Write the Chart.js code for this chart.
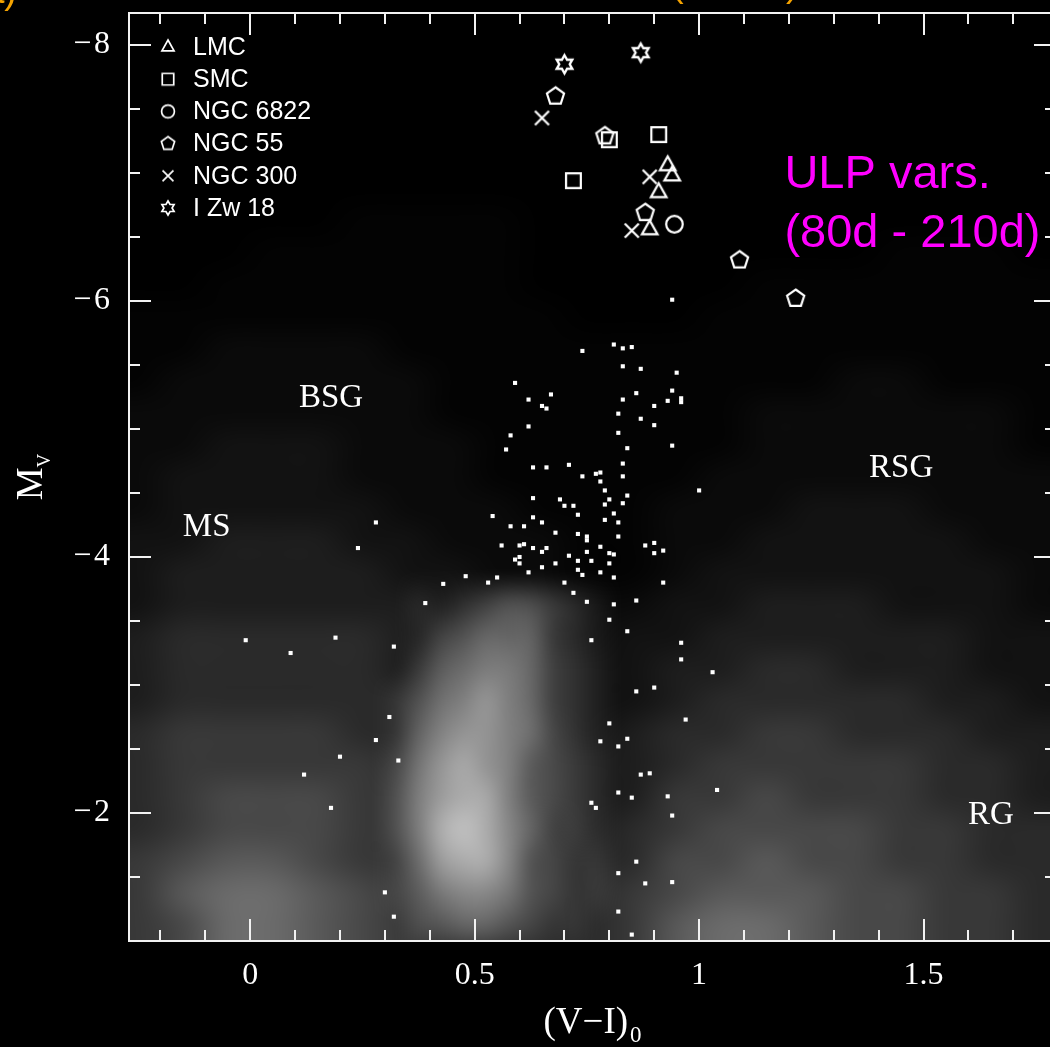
<!DOCTYPE html>
<html>
<head>
<meta charset="utf-8">
<title>Colour-magnitude diagram</title>
<script src="https://cdn.jsdelivr.net/npm/chart.js@4/dist/chart.umd.min.js"></script>
<style>
  html, body { margin: 0; padding: 0; background: #000; overflow: hidden; }
  canvas { display: block; }
</style>
</head>
<body>
<canvas id="cmd" width="1056" height="1047"></canvas>
<script>
// ---------------- data ----------------

// Ultra-long-period variables, [(V-I)0, Mv]
const lmc     = [[0.93, -7.06], [0.94, -6.98], [0.91, -6.85], [0.89, -6.56]];
const smc     = [[0.91, -7.30], [0.80, -7.26], [0.72, -6.94]];
const ngc6822 = [[0.945, -6.60]];
const ngc55   = [[0.68, -7.60], [0.79, -7.29], [0.88, -6.69], [1.09, -6.32], [1.215, -6.02]];
const ngc300  = [[0.65, -7.43], [0.89, -6.97], [0.85, -6.55]];
const izw18   = [[0.87, -7.94], [0.70, -7.85]];

// Variable stars outside the dense strip core, [(V-I)0, Mv]
const variables = [
  [0.94,-6.01],[0.81,-5.66],[0.83,-5.63],[0.85,-5.64],[0.74,-5.61],[0.83,-5.49],[0.87,-5.47],[0.95,-5.44],
  [0.59,-5.36],[0.67,-5.27],[0.86,-5.28],[0.94,-5.30],[0.96,-5.24],[0.96,-5.21],[0.83,-5.23],[0.62,-5.23],
  [0.65,-5.18],[0.66,-5.16],[0.93,-5.22],[0.90,-5.18],[0.82,-5.12],[0.87,-5.08],[0.62,-5.02],[0.90,-5.03],
  [0.82,-4.97],[0.58,-4.95],[0.84,-4.85],[0.94,-4.87],[0.57,-4.84],[0.71,-4.72],[0.63,-4.70],[0.66,-4.70],
  [0.83,-4.73],[0.77,-4.65],[0.78,-4.66],[0.74,-4.63],[0.83,-4.63],[0.78,-4.59],[0.79,-4.52],[1.00,-4.52],
  [0.63,-4.46],[0.69,-4.45],[0.80,-4.45],[0.84,-4.48],[0.83,-4.42],[0.70,-4.40],[0.72,-4.40],[0.79,-4.41],
  [0.54,-4.32],[0.63,-4.31],[0.73,-4.33],[0.81,-4.34],[0.82,-4.27],[0.65,-4.27],[0.58,-4.24],[0.61,-4.24],
  [0.79,-4.29],[0.68,-4.19],[0.73,-4.18],[0.75,-4.16],[0.82,-4.16],[0.75,-4.13],[0.88,-4.09],[0.90,-4.11],
  [0.92,-4.05],[0.90,-4.03],[0.56,-4.09],[0.60,-4.09],[0.63,-4.07],[0.66,-4.07],[0.65,-4.04],[0.78,-4.08],
  [0.75,-4.04],[0.71,-4.01],[0.81,-4.02],[0.60,-4.00],[0.60,-3.95],[0.62,-3.88],[0.65,-3.92],[0.68,-3.95],
  [0.73,-3.97],[0.76,-3.97],[0.80,-3.95],[0.73,-3.90],[0.74,-3.86],[0.78,-3.88],[0.48,-3.85],[0.55,-3.84],
  [0.61,-4.10],[0.59,-3.98],[0.53,-3.80],[0.43,-3.79],[0.39,-3.64],[0.70,-3.80],[0.80,-4.03],[0.81,-3.84],
  [0.86,-3.66],[0.72,-3.72],[0.75,-3.65],[0.81,-3.63],[0.80,-3.51],[0.84,-3.42],[0.76,-3.35],[0.92,-3.80],
  [0.96,-3.33],[0.96,-3.20],[0.86,-2.95],[0.97,-2.73],[0.80,-2.70],[0.84,-2.58],[0.78,-2.56],[0.82,-2.52],
  [0.87,-2.30],[0.89,-2.31],[0.82,-2.16],[0.85,-2.12],[0.76,-2.08],[0.77,-2.04],[0.94,-1.98],[0.86,-1.62],
  [0.88,-1.45],[0.94,-1.46],[0.82,-1.53],[0.82,-1.23],[0.85,-1.05],[0.32,-3.30],[0.31,-2.75],[0.33,-2.41],
  [0.30,-1.38],[0.32,-1.19],[1.03,-3.10],[0.90,-2.98],[1.04,-2.18],[0.93,-2.13],[0.28,-4.27],[0.24,-4.07],
  [-0.01,-3.35],[0.19,-3.37],[0.09,-3.25],[0.28,-2.57],[0.20,-2.44],[0.12,-2.30],[0.18,-2.04]
];

// Field-star density (0-9) on a 0.1 mag colour x 0.25 mag grid,
// columns from (V-I)0 = -0.3 to 1.8, rows from Mv = -8.25 (top) to -1.0
const fieldX0 = -0.3, fieldDX = 0.1, fieldY0 = -8.25, fieldDY = 0.25;
const fieldRows = [
  "000000000000000000000",
  "000000000000000000000",
  "000000000000000000000",
  "000000000000000000000",
  "000000000000000000000",
  "000000000000000000000",
  "000001111000000000000",
  "000111111000000001110",
  "001111111000001111111",
  "111111111100011111111",
  "112222111111111111111",
  "122222211111111122111",
  "222222211111112222221",
  "223332221111112222221",
  "233332221111122222222",
  "233333222111222333222",
  "334443322211223333322",
  "344444332211233333332",
  "344444433222334443332",
  "455555433223344444433",
  "455555443333445544433",
  "455555544333455555443",
  "566665544434556655544",
  "566666544444566666554",
  "567776654444667666554",
  "567776655545677776655",
  "678876655555778776655",
  "689987655556788877665",
  "679987655556899877665"
];

// Density (0-9) of the variable-star strip core, 0.05 x 0.25 mag cells,
// columns from (V-I)0 = 0.30 to 0.80, rows from Mv = -3.75 to -1.0
const coreX0 = 0.30, coreDX = 0.05, coreY0 = -3.75, coreDY = 0.25;
const coreRows = [
  "0112344321",
  "0134555321",
  "0245665321",
  "1356765321",
  "1467765321",
  "2578764321",
  "2578864321",
  "2589864221",
  "1478863211",
  "1356653211",
  "0234432110"
];

// Axis ticks
const xTickValues = [-0.2,-0.1,0,0.1,0.2,0.3,0.4,0.5,0.6,0.7,0.8,0.9,1,1.1,1.2,1.3,1.4,1.5,1.6,1.7];
const xMajorValues = [0, 0.5, 1, 1.5];
const xTickLabels = ["0", "0.5", "1", "1.5"];
const yTickValues = [-8,-7.5,-7,-6.5,-6,-5.5,-5,-4.5,-4,-3.5,-3,-2.5,-2,-1.5];
const yMajorValues = [-8, -6, -4, -2];
const yTickLabels = ["\u2212\u200A8", "\u2212\u200A6", "\u2212\u200A4", "\u2212\u200A2"];

// Region labels [text, (V-I)0, Mv]
const regionLabels = [["BSG", 0.18, -5.24], ["MS", -0.097, -4.23], ["RSG", 1.45, -4.69], ["RG", 1.65, -1.98]];

const legendNames = ["LMC", "SMC", "NGC 6822", "NGC 55", "NGC 300", "I Zw 18"];
const legendShapes = ["triangle", "square", "circle", "pentagon", "cross", "star"];

// ---------------- markers ----------------
function makeMarker(kind, r, lw) {
  const s = Math.ceil(2 * r + 2 * lw + 4);
  const c = document.createElement('canvas');
  c.width = c.height = s;
  const g = c.getContext('2d');
  g.strokeStyle = '#fff';
  g.lineWidth = lw;
  g.lineJoin = 'miter';
  const m = s / 2;
  g.beginPath();
  if (kind === 'triangle') {
    g.moveTo(m, m - r);
    g.lineTo(m + r * 0.866, m + r * 0.55);
    g.lineTo(m - r * 0.866, m + r * 0.55);
    g.closePath();
  } else if (kind === 'square') {
    const h = r * 0.82;
    g.rect(m - h, m - h, 2 * h, 2 * h);
  } else if (kind === 'circle') {
    g.arc(m, m, r * 0.92, 0, Math.PI * 2);
  } else if (kind === 'pentagon') {
    for (let k = 0; k < 5; k++) {
      const a = -Math.PI / 2 + k * 2 * Math.PI / 5;
      const px = m + r * Math.cos(a), py = m + r * Math.sin(a);
      if (k === 0) g.moveTo(px, py); else g.lineTo(px, py);
    }
    g.closePath();
  } else if (kind === 'cross') {
    const h = r * 0.78;
    g.moveTo(m - h, m - h); g.lineTo(m + h, m + h);
    g.moveTo(m + h, m - h); g.lineTo(m - h, m + h);
  } else if (kind === 'star') {
    for (let k = 0; k < 12; k++) {
      const a = -Math.PI / 2 + k * Math.PI / 6;
      const rr = (k % 2 === 0) ? r : r * 0.58;
      const px = m + rr * Math.cos(a), py = m + rr * Math.sin(a);
      if (k === 0) g.moveTo(px, py); else g.lineTo(px, py);
    }
    g.closePath();
  }
  g.stroke();
  return c;
}

const plotMarkers = {
  triangle: makeMarker('triangle', 9, 2.2),
  square: makeMarker('square', 9, 2.2),
  circle: makeMarker('circle', 9, 2.2),
  pentagon: makeMarker('pentagon', 9, 2.2),
  cross: makeMarker('cross', 9, 2.2),
  star: makeMarker('star', 9, 2.4)
};
const legendMarkers = {
  triangle: makeMarker('triangle', 7, 1.7),
  square: makeMarker('square', 7, 1.7),
  circle: makeMarker('circle', 7, 1.7),
  pentagon: makeMarker('pentagon', 7, 1.7),
  cross: makeMarker('cross', 7, 1.7),
  star: makeMarker('star', 7, 1.7)
};

const toPts = arr => arr.map(p => ({ x: p[0], y: p[1] }));

// ---------------- plugins ----------------
// Paints a density grid as a soft haze, cells placed through the chart scales
function drawDensity(chart, rows, x0, dx, y0, dy, maxAlpha, gamma, pad) {
  const nc = rows[0].length, nr = rows.length, p = pad ? 1 : 0;
  const off = document.createElement('canvas');
  off.width = nc + 2 * p; off.height = nr + 2 * p;
  const octx = off.getContext('2d');
  const img = octx.createImageData(off.width, off.height);
  for (let r = 0; r < nr; r++) {
    for (let c = 0; c < nc; c++) {
      const v = +rows[r][c];
      const i = ((r + p) * off.width + (c + p)) * 4;
      img.data[i] = 255; img.data[i + 1] = 255; img.data[i + 2] = 255;
      img.data[i + 3] = Math.round(maxAlpha * Math.pow(v / 9, gamma) * 255);
    }
  }
  octx.putImageData(img, 0, 0);
  const xs = chart.scales.x, ys = chart.scales.y, a = chart.chartArea, ctx = chart.ctx;
  const left = xs.getPixelForValue(x0 - p * dx);
  const right = xs.getPixelForValue(x0 + (nc + p) * dx);
  const top = ys.getPixelForValue(y0 - p * dy);
  const bottom = ys.getPixelForValue(y0 + (nr + p) * dy);
  ctx.save();
  ctx.beginPath();
  ctx.rect(a.left, a.top, a.right - a.left, a.bottom - a.top);
  ctx.clip();
  ctx.imageSmoothingEnabled = true;
  ctx.imageSmoothingQuality = 'high';
  ctx.drawImage(off, left, top, right - left, bottom - top);
  ctx.restore();
}

const densityPlugin = {
  id: 'densityHaze',
  beforeDatasetsDraw(chart) {
    drawDensity(chart, fieldRows, fieldX0, fieldDX, fieldY0, fieldDY, 0.42, 1.6, false);
    drawDensity(chart, coreRows, coreX0, coreDX, coreY0, coreDY, 0.7, 1.15, true);
  }
};

const framePlugin = {
  id: 'frameAndText',
  afterDatasetsDraw(chart) {
    const ctx = chart.ctx, a = chart.chartArea, xs = chart.scales.x, ys = chart.scales.y;
    ctx.save();
    // frame with inward ticks on all four sides
    ctx.strokeStyle = '#f2f2f2';
    ctx.lineWidth = 2;
    ctx.strokeRect(a.left, a.top, a.right - a.left, a.bottom - a.top);
    ctx.beginPath();
    xTickValues.forEach(v => {
      const px = Math.round(xs.getPixelForValue(v));
      const len = xMajorValues.includes(v) ? 22 : 11;
      ctx.moveTo(px, a.bottom); ctx.lineTo(px, a.bottom - len);
      ctx.moveTo(px, a.top); ctx.lineTo(px, a.top + len);
    });
    yTickValues.forEach(v => {
      const py = Math.round(ys.getPixelForValue(v));
      const len = yMajorValues.includes(v) ? 22 : 11;
      ctx.moveTo(a.left, py); ctx.lineTo(a.left + len, py);
      ctx.moveTo(a.right, py); ctx.lineTo(a.right - len, py);
    });
    ctx.stroke();

    // region labels
    ctx.fillStyle = '#fff';
    ctx.font = "33px 'Liberation Serif', 'DejaVu Serif', serif";
    ctx.textAlign = 'center';
    ctx.textBaseline = 'middle';
    regionLabels.forEach(l => ctx.fillText(l[0], xs.getPixelForValue(l[1]), ys.getPixelForValue(l[2])));

    // legend
    ctx.textAlign = 'left';
    ctx.font = "25px 'Liberation Sans', Arial, sans-serif";
    legendNames.forEach((name, i) => {
      const cy = a.top + 34 + i * 32.2;
      const mk = legendMarkers[legendShapes[i]];
      ctx.drawImage(mk, 168 - mk.width / 2, cy - mk.height / 2);
      ctx.fillText(name, 193, cy + 1);
    });

    // ULP annotation
    ctx.fillStyle = '#ff00ff';
    ctx.font = "47px 'Liberation Sans', Arial, sans-serif";
    ctx.textBaseline = 'alphabetic';
    const tx = xs.getPixelForValue(1.19);
    ctx.fillText('ULP vars.', tx, ys.getPixelForValue(-6.88));
    ctx.fillText('(80d - 210d)', tx, ys.getPixelForValue(-6.42));

    // axis titles
    ctx.fillStyle = '#fff';
    ctx.font = "37px 'Liberation Serif', 'DejaVu Serif', serif";
    const main = '(V\u2212I)';
    const wMain = ctx.measureText(main).width;
    ctx.font = "23px 'Liberation Serif', 'DejaVu Serif', serif";
    const wSub = ctx.measureText('0').width;
    const cx = (a.left + a.right) / 2;
    const x0 = cx - (wMain + wSub + 2) / 2;
    ctx.font = "37px 'Liberation Serif', 'DejaVu Serif', serif";
    ctx.fillText(main, x0, 1033);
    ctx.font = "23px 'Liberation Serif', 'DejaVu Serif', serif";
    ctx.fillText('0', x0 + wMain + 2, 1042);

    ctx.save();
    ctx.translate(42, (a.top + a.bottom) / 2);
    ctx.rotate(-Math.PI / 2);
    ctx.font = "37px 'Liberation Serif', 'DejaVu Serif', serif";
    const wM = ctx.measureText('M').width;
    ctx.font = "19px 'Liberation Serif', 'DejaVu Serif', serif";
    const wV = ctx.measureText('V').width;
    const sx = -(wM + wV) / 2;
    ctx.font = "37px 'Liberation Serif', 'DejaVu Serif', serif";
    ctx.fillText('M', sx, 0);
    ctx.font = "19px 'Liberation Serif', 'DejaVu Serif', serif";
    ctx.fillText('V', sx + wM, 8);
    ctx.restore();

    // title line running above the top edge of the page
    ctx.fillStyle = '#f5a300';
    ctx.font = "38px 'Liberation Sans', Arial, sans-serif";
    ctx.textAlign = 'right';
    ctx.fillText('a)', 17, 3);
    ctx.textAlign = 'left';
    ctx.fillText('(', 671, -4);
    ctx.fillText(')', 786, -4);
    ctx.restore();
  }
};

// ---------------- chart ----------------
const serif = "'Liberation Serif', 'DejaVu Serif', serif";
const ulp = (label, pts, shape) => ({
  label, data: toPts(pts), pointStyle: plotMarkers[shape], pointRadius: 9, order: 0
});
const noPad = s => { s.paddingTop = 0; s.paddingBottom = 0; s.paddingLeft = 0; s.paddingRight = 0; };

new Chart(document.getElementById('cmd'), {
  type: 'scatter',
  data: {
    datasets: [
      ulp('LMC', lmc, 'triangle'),
      ulp('SMC', smc, 'square'),
      ulp('NGC 6822', ngc6822, 'circle'),
      ulp('NGC 55', ngc55, 'pentagon'),
      ulp('NGC 300', ngc300, 'cross'),
      ulp('I Zw 18', izw18, 'star'),
      {
        label: 'variables',
        data: toPts(variables),
        pointStyle: 'rect',
        pointRadius: 2.9,
        backgroundColor: '#ffffff',
        borderWidth: 0,
        order: 5
      }
    ]
  },
  options: {
    responsive: false,
    animation: false,
    devicePixelRatio: 1,
    layout: { autoPadding: false, padding: { top: 13, right: 0, left: 0, bottom: 0 } },
    plugins: { legend: { display: false }, tooltip: { enabled: false } },
    events: [],
    scales: {
      x: {
        type: 'linear',
        min: -0.27,
        max: 1.795,
        grid: { display: false, drawTicks: false },
        border: { display: false },
        afterBuildTicks: s => { s.ticks = xMajorValues.map(v => ({ value: v })); },
        afterFit: s => { s.height = 106; noPad(s); },
        ticks: {
          color: '#fff',
          padding: 15,
          maxRotation: 0,
          font: { family: serif, size: 32 },
          callback: v => xTickLabels[xMajorValues.indexOf(v)]
        }
      },
      y: {
        type: 'linear',
        reverse: true,
        min: -8.25,
        max: -1.0,
        grid: { display: false, drawTicks: false },
        border: { display: false },
        afterBuildTicks: s => { s.ticks = yMajorValues.map(v => ({ value: v })); },
        afterFit: s => { s.width = 129; noPad(s); },
        ticks: {
          color: '#fff',
          padding: 19,
          font: { family: serif, size: 32 },
          callback: v => yTickLabels[yMajorValues.indexOf(v)]
        }
      }
    }
  },
  plugins: [densityPlugin, framePlugin]
});
</script>
</body>
</html>
